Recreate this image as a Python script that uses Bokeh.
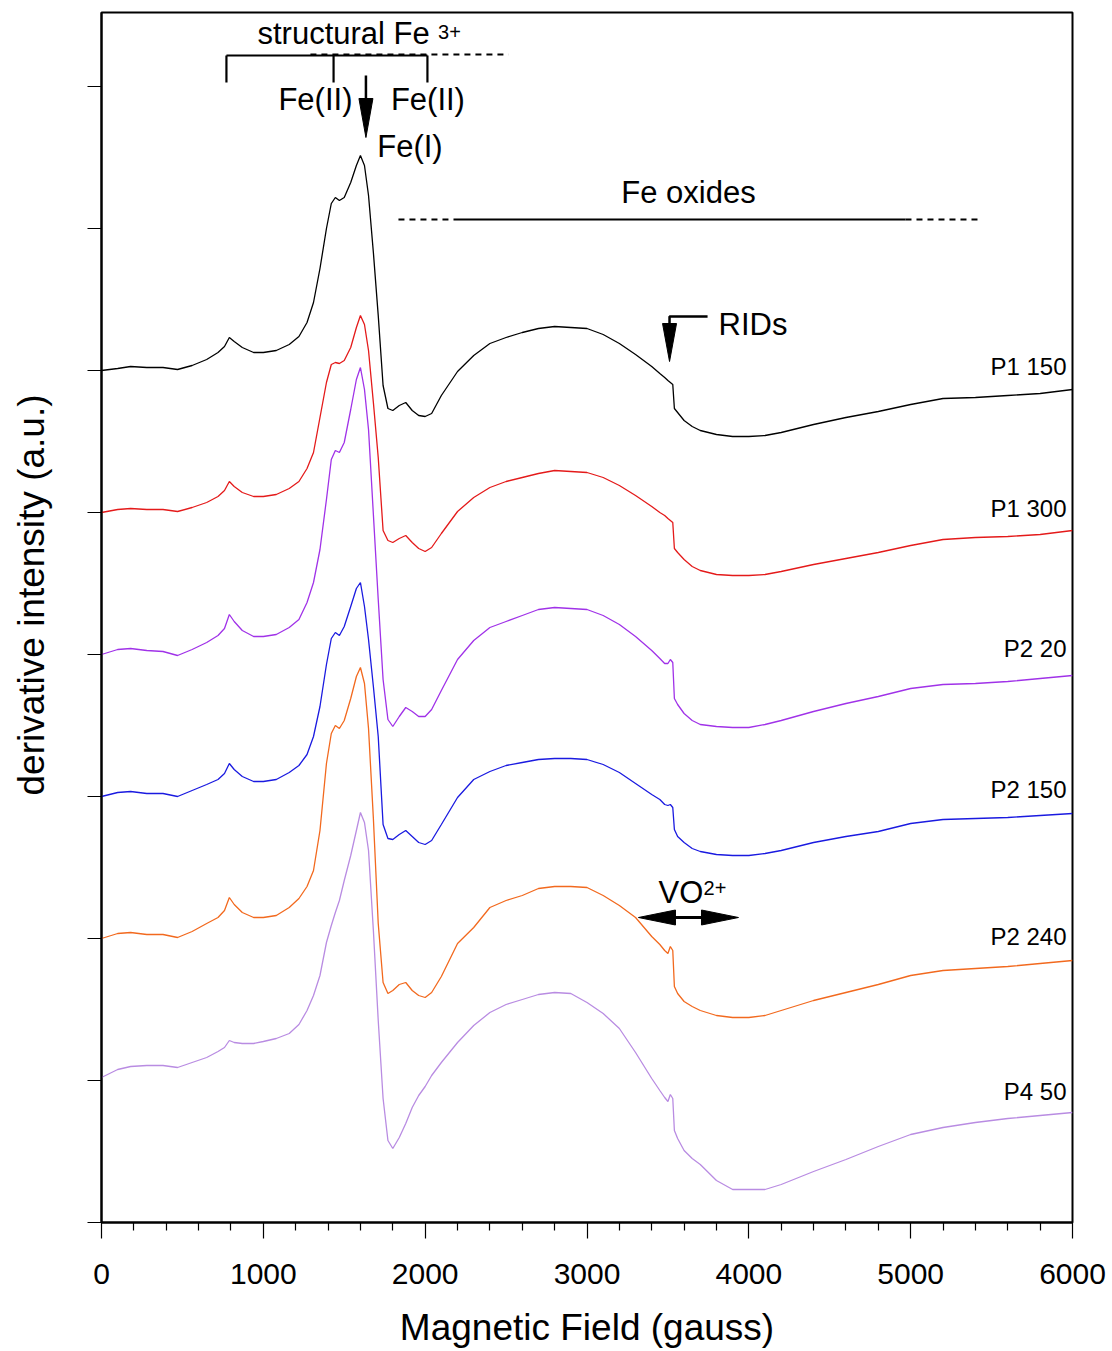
from bokeh.core.properties import value
from bokeh.embed import file_html
from bokeh.models import FixedTicker, LinearAxis, Range1d, Title
from bokeh.plotting import figure
from bokeh.resources import INLINE

# ---------------------------------------------------------------------------
# EPR derivative spectra (field in gauss, intensity in arbitrary units,
# measured from each spectrum's own baseline)
# ---------------------------------------------------------------------------
FIELD_G = [
    0, 100, 180, 280, 380, 470, 560, 650, 720, 760,
    790, 820, 870, 940, 1000, 1080, 1160, 1220, 1270, 1310,
    1350, 1390, 1420, 1445, 1470, 1500, 1540, 1575, 1600, 1625,
    1650, 1680, 1710, 1740, 1770, 1800, 1840, 1880, 1920, 1960,
    2000, 2040, 2100, 2200, 2300, 2400, 2500, 2600, 2700, 2800,
    2900, 3000, 3100, 3200, 3300, 3400, 3450, 3480, 3500, 3515,
    3530, 3540, 3560, 3600, 3650, 3700, 3800, 3900, 4000, 4100,
    4200, 4400, 4600, 4800, 5000, 5200, 5400, 5600, 5800, 6000,
]

P1_150 = [
    0, 2, 4, 3, 3, 1, 5, 11, 18, 24,
    33, 29, 23, 18, 18, 20, 26, 34, 48, 68,
    102, 142, 167, 173, 170, 173, 188, 205, 215, 205,
    175, 118, 55, -15, -38, -40, -35, -32, -40, -45,
    -46, -43, -25, -1, 15, 27, 33, 38, 42, 44,
    43, 42, 36, 27, 16, 4, -3, -7, -10, -12,
    -14, -38, -42, -50, -56, -60, -64, -66, -66, -65,
    -62, -54, -47, -41, -34, -28, -27, -25, -23, -19,
]

P1_300 = [
    0, 3, 4, 3, 3, 1, 5, 10, 16, 22,
    31, 26, 20, 16, 16, 18, 24, 31, 44, 60,
    95, 130, 148, 150, 149, 152, 165, 185, 197, 188,
    162, 110, 55, -18, -28, -30, -26, -23, -30, -36,
    -39, -35, -21, 1, 15, 25, 31, 35, 39, 42,
    41, 40, 35, 27, 17, 6, 0, -3, -6, -8,
    -10, -36, -40, -47, -54, -58, -62, -63, -63, -62,
    -59, -52, -46, -40, -33, -27, -25, -24, -22, -18,
]

P2_20 = [
    0, 5, 6, 4, 3, -1, 5, 12, 19, 26,
    40, 33, 24, 18, 18, 20, 27, 35, 52, 72,
    105, 155, 195, 204, 202, 212, 245, 275, 287, 265,
    225, 140, 55, -25, -65, -72, -62, -53, -57, -62,
    -62, -55, -36, -5, 14, 27, 33, 39, 45, 47,
    46, 45, 39, 30, 18, 4, -4, -9, -9, -5,
    -8, -44, -50, -59, -66, -70, -72, -73, -73, -70,
    -66, -57, -49, -42, -34, -30, -29, -27, -24, -21,
]

P2_150 = [
    0, 4, 5, 3, 3, 0, 6, 12, 17, 23,
    33, 27, 20, 15, 15, 17, 24, 31, 42, 60,
    90, 132, 158, 164, 161, 170, 190, 208, 214, 190,
    157, 110, 60, -28, -42, -43, -38, -34, -40, -46,
    -48, -44, -28, -1, 17, 25, 31, 34, 37, 38,
    38, 37, 32, 24, 13, 2, -3, -8, -9, -8,
    -11, -33, -40, -46, -52, -55, -58, -59, -59, -57,
    -54, -46, -40, -35, -27, -23, -22, -21, -19, -17,
]

P2_240 = [
    0, 5, 6, 4, 4, 1, 7, 15, 21, 28,
    41, 34, 26, 21, 21, 23, 31, 40, 52, 68,
    108, 175, 205, 213, 210, 218, 240, 262, 271, 255,
    210, 120, 15, -44, -55, -52, -46, -44, -52, -57,
    -59, -54, -38, -5, 11, 31, 38, 43, 50, 52,
    52, 51, 43, 33, 21, 2, -6, -12, -15, -8,
    -12, -48, -55, -63, -68, -72, -77, -79, -79, -77,
    -72, -62, -54, -46, -37, -32, -30, -28, -25, -22,
]

P4_50 = [
    3, 11, 14, 15, 15, 13, 18, 23, 29, 33,
    40, 38, 37, 37, 39, 42, 47, 56, 70, 85,
    105, 138, 155, 168, 180, 200, 225, 250, 268, 258,
    230, 150, 60, -18, -60, -68, -57, -43, -27, -15,
    -6, 5, 18, 38, 55, 68, 76, 81, 86, 88,
    87, 78, 67, 52, 28, 2, -10, -17, -21, -14,
    -18, -50, -58, -70, -78, -84, -100, -109, -109, -109,
    -104, -91, -79, -66, -54, -47, -42, -38, -35, -32,
]

SERIES_NAMES = ["P1 150", "P1 300", "P2 20", "P2 150", "P2 240", "P4 50"]
SERIES_VALUES = [P1_150, P1_300, P2_20, P2_150, P2_240, P4_50]

# stacking offsets of the spectra and baseline of their name tags
SERIES_OFFSETS = [852, 710, 568, 426, 284, 142]
NAME_TAG_Y = [847, 705, 565, 424, 277, 122]
SERIES_COLORS = ["#000000", "#E41A1A", "#A032E8", "#1A1AE0", "#F2691E", "#B98CE2"]

X_TICKS = [0, 1000, 2000, 3000, 4000, 5000, 6000]
X_MINOR_TICKS = [v for v in range(0, 6001, 200) if v % 1000 != 0]
Y_TICKS = [0, 142, 284, 426, 568, 710, 852, 994, 1136]

FONT = "Liberation Sans"
G_PER_PX = 6000 / 971.0   # field units per screen pixel along x
BASELINE_LIFT = 0.36      # Bokeh draws "alphabetic" text this many em too low


def lifted(y, size_px):
    """Baseline position corrected for the renderer's text offset."""
    return y + BASELINE_LIFT * size_px


# ---------------------------------------------------------------------------
p = figure(
    width=1112, height=1351,
    x_range=Range1d(0, 6000), y_range=Range1d(0, 1210),
    output_backend="svg", toolbar_location=None,
    min_border_left=101, min_border_right=40,
    min_border_top=12, min_border_bottom=129,
)
p.xgrid.visible = False
p.ygrid.visible = False
p.outline_line_color = "black"
p.outline_line_width = 2
p.background_fill_color = "white"
p.border_fill_color = "white"

xa = p.xaxis[0]
xa.ticker = FixedTicker(ticks=X_TICKS, minor_ticks=X_MINOR_TICKS)
xa.axis_line_width = 2
xa.major_tick_in = 0
xa.major_tick_out = 16
xa.minor_tick_in = 0
xa.minor_tick_out = 8
xa.major_tick_line_width = 1.2
xa.minor_tick_line_width = 1.2
xa.major_label_text_font = FONT
xa.major_label_text_font_size = "30px"
xa.major_label_text_color = "black"
xa.major_label_standoff = 25
xa.axis_label = "Magnetic Field (gauss)"
xa.axis_label_text_font = FONT
xa.axis_label_text_font_size = "37px"
xa.axis_label_text_font_style = "normal"
xa.axis_label_text_color = "black"
xa.axis_label_standoff = 20

ya = p.yaxis[0]
ya.ticker = FixedTicker(ticks=Y_TICKS, minor_ticks=[])
ya.axis_line_width = 2
ya.major_tick_in = 0
ya.major_tick_out = 14
ya.major_tick_line_width = 1.2
ya.minor_tick_out = 0
ya.minor_tick_in = 0
ya.major_label_overrides = {t: "" for t in Y_TICKS}

# blank band that keeps the y title away from the tick marks
gap_axis = LinearAxis(
    ticker=FixedTicker(ticks=[600], minor_ticks=[]),
    axis_line_color=None, major_tick_line_color=None, minor_tick_line_color=None,
    major_tick_out=35, major_tick_in=0, minor_tick_out=0, minor_tick_in=0,
    major_label_overrides={600: ""}, major_label_standoff=0,
)
p.add_layout(gap_axis, "left")

# y-axis title, starting 427 px above the bottom of the frame
p.add_layout(Title(
    text="derivative intensity (a.u.)", align="left", offset=427,
    vertical_align="middle", standoff=0,
    text_font=FONT, text_font_size="37px", text_font_style="normal",
    text_color="black",
), "left")

# spectra
for vals, off, col in zip(SERIES_VALUES, SERIES_OFFSETS, SERIES_COLORS):
    p.line(FIELD_G, [off + v for v in vals], line_color=col, line_width=1.3)

p.text(x=[5963] * len(SERIES_NAMES), y=[lifted(y, 24) for y in NAME_TAG_Y],
       text=SERIES_NAMES, text_font=value(FONT), text_font_size=value("24px"),
       text_align="right", text_baseline="alphabetic", text_color="black")

# ---------------------------------------------------------------------------
# assignments
# ---------------------------------------------------------------------------
def arrow_head(tip_x, tip_y, direction, length_px, half_width_px):
    """Filled triangular arrow head in data space."""
    if direction == "down":
        return ([tip_x - half_width_px * G_PER_PX, tip_x + half_width_px * G_PER_PX, tip_x],
                [tip_y + length_px, tip_y + length_px, tip_y])
    if direction == "left":
        return ([tip_x, tip_x + length_px * G_PER_PX, tip_x + length_px * G_PER_PX],
                [tip_y, tip_y + half_width_px, tip_y - half_width_px])
    return ([tip_x, tip_x - length_px * G_PER_PX, tip_x - length_px * G_PER_PX],
            [tip_y, tip_y + half_width_px, tip_y - half_width_px])


def note(xs, ys, texts, size, align):
    p.text(x=xs, y=[lifted(y, size) for y in ys], text=texts,
           text_font=value(FONT), text_font_size=value(f"{size}px"),
           text_align=align, text_baseline="alphabetic", text_color="black")


# structural Fe3+ bracket
FE3_SITES = [772, 1434, 2014]
FE3_BAR_Y, FE3_FOOT_Y = 1167, 1140
p.line([FE3_SITES[0], FE3_SITES[-1]], [FE3_BAR_Y, FE3_BAR_Y], line_color="black", line_width=2.2)
p.segment(x0=FE3_SITES, y0=[FE3_BAR_Y] * 3, x1=FE3_SITES, y1=[FE3_FOOT_Y] * 3,
          line_color="black", line_width=2.2)
p.line([1291, 2515], [FE3_BAR_Y + 1, FE3_BAR_Y + 1], line_color="black",
       line_width=2, line_dash="6 5")
note([964], [1178], ["structural Fe"], 31, "left")
note([2080], [1183], ["3+"], 20, "left")
note([1322, 2017], [1112, 1112], ["Fe(II)", "Fe(II)"], 31, "center")
note([1906], [1065], ["Fe(I)"], 31, "center")

# Fe(I) arrow
FE1_X, FE1_TOP, FE1_TIP = 1634, 1147, 1085
p.line([FE1_X, FE1_X], [FE1_TOP, FE1_TIP + 39], line_color="black", line_width=2.5)
hx, hy = arrow_head(FE1_X, FE1_TIP, "down", 39, 7)
p.patch(hx, hy, fill_color="black", line_color="black", line_width=1)

# Fe oxides range
OX_Y = 1003
p.line([1835, 2175], [OX_Y, OX_Y], line_color="black", line_width=2, line_dash="6 5")
p.line([2175, 4968], [OX_Y, OX_Y], line_color="black", line_width=2.2)
p.line([4968, 5432], [OX_Y, OX_Y], line_color="black", line_width=2, line_dash="6 5")
note([3627], [1019], ["Fe oxides"], 31, "center")

# RIDs marker
RID_X, RID_TOP, RID_TIP = 3510, 906, 861
p.line([3745, RID_X, RID_X], [RID_TOP, RID_TOP, RID_TIP + 38],
       line_color="black", line_width=2.5)
hx, hy = arrow_head(RID_X, RID_TIP, "down", 38, 7)
p.patch(hx, hy, fill_color="black", line_color="black", line_width=1)
note([3813], [887], ["RIDs"], 31, "left")

# VO2+ range
VO_LEFT, VO_RIGHT, VO_Y = 3318, 3936, 305
p.line([VO_LEFT + 30 * G_PER_PX, VO_RIGHT - 30 * G_PER_PX], [VO_Y, VO_Y],
       line_color="black", line_width=3)
hx, hy = arrow_head(VO_LEFT, VO_Y, "left", 37, 7.5)
p.patch(hx, hy, fill_color="black", line_color="black", line_width=1)
hx, hy = arrow_head(VO_RIGHT, VO_Y, "right", 37, 7.5)
p.patch(hx, hy, fill_color="black", line_color="black", line_width=1)
note([3442], [319], ["VO"], 31, "left")
note([3720], [327], ["2+"], 20, "left")

open("out.html", "w").write(file_html(p, INLINE))
